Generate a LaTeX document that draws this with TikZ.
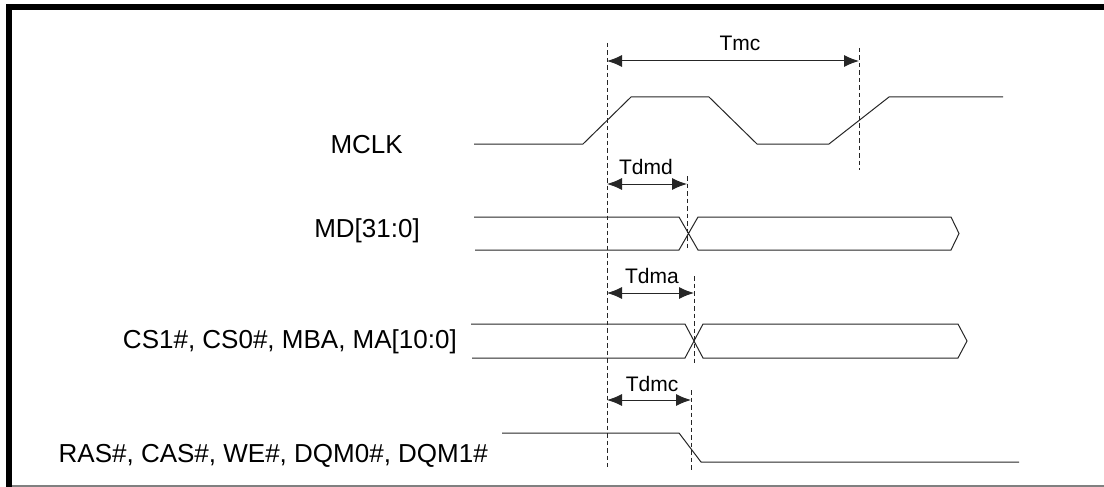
\documentclass[tikz,border=0pt]{standalone}
\usepackage{fontspec}
\setmainfont{Liberation Sans}
\usetikzlibrary{arrows.meta}
\begin{document}
\begin{tikzpicture}[x=1pt,y=-1pt,
  sig/.style={draw=black!85, line width=1pt},
  guide/.style={draw=black!85, line width=0.9pt, dash pattern=on 4.5pt off 3pt},
  dim/.style={draw=black!85, line width=1pt, {Latex[length=15pt,width=12pt]}-{Latex[length=15pt,width=12pt]}},
  siglabel/.style={anchor=east, inner sep=0pt, font=\fontsize{26}{30}\selectfont},
  dimlabel/.style={inner sep=0pt, font=\fontsize{21}{25}\selectfont}]
\useasboundingbox (0,0) rectangle (1104,487);
% frame
\fill[black] (6,4) rectangle (1104,10);
\fill[black] (6,4) rectangle (12,487);
\draw[black!50, line width=1.2pt] (12,486) -- (1104,486);
% labels
\node[siglabel] (lclk) at (403,145) {MCLK};
\node[siglabel] (lmd) at (420,231) {MD[31:0]};
\node[siglabel] (lcs) at (457,342) {CS1\#, CS0\#, MBA, MA[10:0]};
\node[siglabel] (lras) at (488,456) {RAS\#, CAS\#, WE\#, DQM0\#, DQM1\#};
% MCLK
\draw[sig] (474,144) -- (583,144) -- (631,97) -- (709,97) -- (757,144) -- (829,144) -- (889,97) -- (1003,97);
% MD bus
\draw[sig] (474,217) -- (679,217) -- (698,250) -- (951,250) -- (959,233.5) -- (951,217) -- (698,217) -- (679,250) -- (475,250);
% CS bus
\draw[sig] (471,324) -- (685,324) -- (703,358) -- (958,358) -- (967,341) -- (958,324) -- (703,324) -- (685,358) -- (472,358);
% RAS
\draw[sig] (502,433) -- (679,433) -- (701,462) -- (1019,462);
% guides
\coordinate (g1t) at (607,43); \coordinate (g1b) at (607,467);
\coordinate (g2t) at (859,48); \coordinate (g2b) at (859,170);
\coordinate (g3t) at (687,176); \coordinate (g3b) at (687,250);
\coordinate (g4t) at (694,276); \coordinate (g4b) at (694,363);
\coordinate (g5t) at (691,390); \coordinate (g5b) at (691,472);
\draw[guide] (g1t) -- (g1b);
\draw[guide] (g2t) -- (g2b);
\draw[guide] (g3t) -- (g3b);
\draw[guide] (g4t) -- (g4b);
\draw[guide] (g5t) -- (g5b);
% dimension arrows
\coordinate (a1l) at (607,61); \coordinate (a1r) at (859,61);
\coordinate (a2l) at (607,184); \coordinate (a2r) at (687,184);
\coordinate (a3l) at (607,293); \coordinate (a3r) at (694,293);
\coordinate (a4l) at (607,400); \coordinate (a4r) at (691,400);
\draw[dim] (a1l) -- (a1r);
\draw[dim] (a2l) -- (a2r);
\draw[dim] (a3l) -- (a3r);
\draw[dim] (a4l) -- (a4r);
\node[dimlabel] (tmc) at (740,43) {Tmc};
\node[dimlabel] (tdmd) at (646,167) {Tdmd};
\node[dimlabel] (tdma) at (652,276) {Tdma};
\node[dimlabel] (tdmc) at (652,384) {Tdmc};
\end{tikzpicture}
\end{document}
